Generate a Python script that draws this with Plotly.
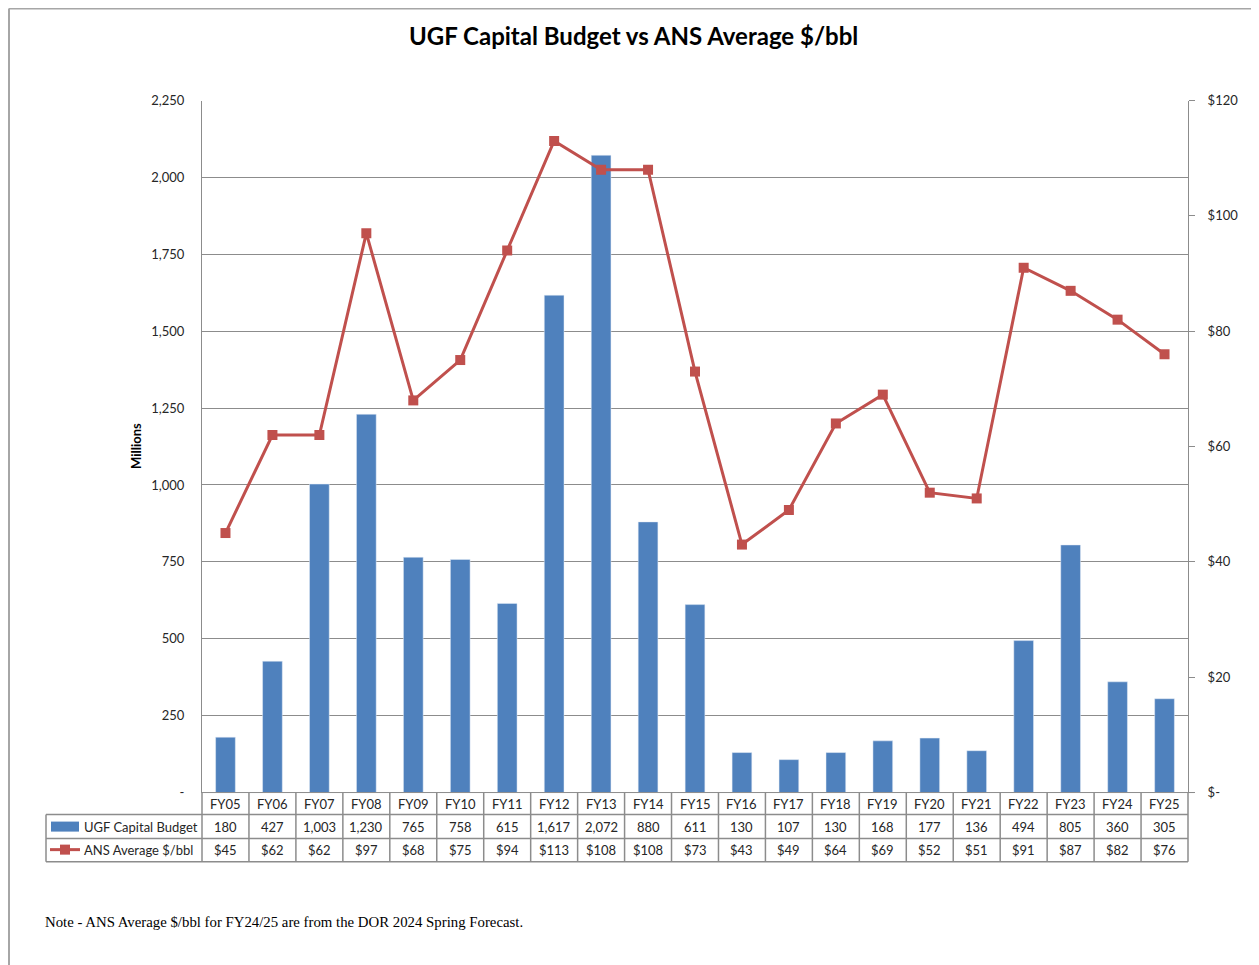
import plotly.graph_objects as go

categories = ["FY05","FY06","FY07","FY08","FY09","FY10","FY11","FY12","FY13","FY14","FY15",
              "FY16","FY17","FY18","FY19","FY20","FY21","FY22","FY23","FY24","FY25"]
ugf_budget = [180, 427, 1003, 1230, 765, 758, 615, 1617, 2072, 880, 611,
              130, 107, 130, 168, 177, 136, 494, 805, 360, 305]
ans_price = [45, 62, 62, 97, 68, 75, 94, 113, 108, 108, 73,
             43, 49, 64, 69, 52, 51, 91, 87, 82, 76]
left_ticks = [0, 250, 500, 750, 1000, 1250, 1500, 1750, 2000, 2250]
right_ticks = [0, 20, 40, 60, 80, 100, 120]

W, H = 1259, 965
BLUE = "#4F81BD"
RED = "#C0504D"
GRID = "#8C8C8C"
FONT = "Lato"
TXT = "#262626"

# calibrated mapping from target pixel positions to paper coordinates
OFF_X = 8.0
OFF_Y = 16.6
PH = 947.6

def px(x):
    return (x - OFF_X) / W

def py(y):
    return 1 - (y - OFF_Y) / PH

X0, X1 = 202, 1188
Y_TOP, Y_BOT = 101, 792
n = len(categories)
cw = (X1 - X0) / n

fig = go.Figure()
fig.add_trace(go.Bar(x=list(range(n)), y=ugf_budget, marker_color=BLUE, width=0.42,
                     name="UGF Capital Budget", yaxis="y"))
fig.add_trace(go.Scatter(x=list(range(n)), y=ans_price, mode="lines+markers",
                         line=dict(color=RED, width=3),
                         marker=dict(symbol="square", size=10, color=RED),
                         name="ANS Average $/bbl", yaxis="y2"))

fig.update_layout(
    width=W, height=H,
    margin=dict(l=0, r=0, t=0, b=0),
    paper_bgcolor="white", plot_bgcolor="white",
    showlegend=False,
    font=dict(family=FONT, size=13, color=TXT),
    xaxis=dict(domain=[px(X0), px(X1)], range=[-0.5, n - 0.5], showticklabels=False,
               showgrid=False, zeroline=False, showline=False, ticks=""),
    yaxis=dict(domain=[py(Y_BOT), py(Y_TOP)], range=[0, 2250],
               tickvals=left_ticks,
               ticktext=["-" if v == 0 else f"{v:,}" for v in left_ticks],
               showgrid=True, gridcolor=GRID, gridwidth=1, zeroline=False,
               showline=True, linecolor=GRID, linewidth=1, ticks="",
               ticklabelstandoff=14,
               tickfont=dict(family=FONT, size=13, color=TXT)),
    yaxis2=dict(domain=[py(Y_BOT), py(Y_TOP)], range=[0, 120], overlaying="y", side="right",
                tickvals=right_ticks,
                ticktext=["$-" if v == 0 else f"${v}" for v in right_ticks],
                showgrid=False, zeroline=False, showline=True, linecolor=GRID, linewidth=1,
                ticks="outside", ticklen=6, tickcolor=GRID,
                ticklabelstandoff=10,
                tickfont=dict(family=FONT, size=13, color=TXT)),
)

shapes = []
BORDER = dict(color="#A6A6A6", width=2)
# outer border (drawn as separate lines so each edge is placed independently)
shapes.append(dict(type="line", xref="paper", yref="paper", x0=px(9), x1=px(9),
                   y0=py(990), y1=py(9), line=BORDER))
shapes.append(dict(type="line", xref="paper", yref="paper", x0=px(9), x1=px(1256),
                   y0=py(9), y1=py(9), line=BORDER))
shapes.append(dict(type="line", xref="paper", yref="paper", x0=px(1256), x1=px(1256),
                   y0=py(990), y1=py(9), line=BORDER))
# bottom axis line
shapes.append(dict(type="line", xref="paper", yref="paper", x0=px(X0), x1=px(X1 + 6),
                   y0=py(Y_BOT), y1=py(Y_BOT), line=dict(color=GRID, width=1)))
# table horizontal lines
for yy in [814, 838, 861]:
    shapes.append(dict(type="line", xref="paper", yref="paper", x0=px(46), x1=px(X1),
                       y0=py(yy), y1=py(yy), line=dict(color=GRID, width=1.5)))
# table vertical lines
for k in range(n + 1):
    xx = X0 + k * cw
    shapes.append(dict(type="line", xref="paper", yref="paper", x0=px(xx), x1=px(xx),
                       y0=py(792), y1=py(861), line=dict(color=GRID, width=1.5)))
shapes.append(dict(type="line", xref="paper", yref="paper", x0=px(46), x1=px(46),
                   y0=py(814), y1=py(861), line=dict(color=GRID, width=1.5)))
# legend keys
shapes.append(dict(type="rect", xref="paper", yref="paper", x0=px(51), x1=px(79),
                   y0=py(831), y1=py(821), fillcolor=BLUE, line=dict(width=0)))
shapes.append(dict(type="line", xref="paper", yref="paper", x0=px(50), x1=px(80),
                   y0=py(849), y1=py(849), line=dict(color=RED, width=3)))
shapes.append(dict(type="rect", xref="paper", yref="paper", x0=px(60), x1=px(70),
                   y0=py(854), y1=py(844), fillcolor=RED, line=dict(width=0)))

annotations = []
annotations.append(dict(text="<b>UGF Capital Budget vs ANS Average $/bbl</b>", xref="paper", yref="paper",
                        x=px(633), y=py(36), showarrow=False, xanchor="center", yanchor="middle",
                        font=dict(family=FONT, size=24, color="black")))
annotations.append(dict(text="<b>Millions</b>", xref="paper", yref="paper", x=px(136), y=py(446),
                        showarrow=False, textangle=-90, xanchor="center", yanchor="middle",
                        font=dict(family=FONT, size=13, color="black")))
annotations.append(dict(text="UGF Capital Budget", xref="paper", yref="paper", x=px(82), y=py(826),
                        showarrow=False, xanchor="left", yanchor="middle",
                        font=dict(family=FONT, size=13, color=TXT)))
annotations.append(dict(text="ANS Average $/bbl", xref="paper", yref="paper", x=px(82), y=py(849),
                        showarrow=False, xanchor="left", yanchor="middle",
                        font=dict(family=FONT, size=13, color=TXT)))
for i, c in enumerate(categories):
    cx = X0 + (i + 0.5) * cw
    for yy, t in [(803, c), (826, f"{ugf_budget[i]:,}"), (849, f"${ans_price[i]}")]:
        annotations.append(dict(text=t, xref="paper", yref="paper", x=px(cx), y=py(yy),
                                showarrow=False, xanchor="center", yanchor="middle",
                                font=dict(family=FONT, size=13, color=TXT)))
annotations.append(dict(text="Note - ANS Average $/bbl for FY24/25 are from the DOR 2024 Spring Forecast.",
                        xref="paper", yref="paper", x=px(43), y=py(921), showarrow=False,
                        xanchor="left", yanchor="middle",
                        font=dict(family="Liberation Serif", size=14.8, color="black")))

fig.update_layout(shapes=shapes, annotations=annotations)
fig.write_html("out.html")
